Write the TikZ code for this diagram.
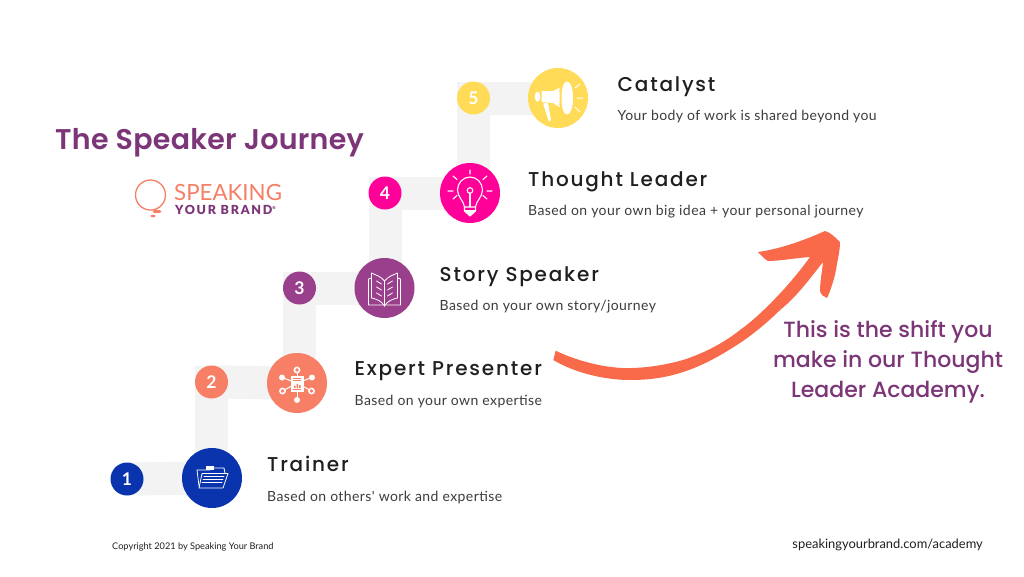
\documentclass[tikz,border=0pt]{standalone}
\usepackage{fontspec}
\usetikzlibrary{calc}
\setmainfont{Lato}
\newfontfamily\popH[LetterSpace=9]{Poppins Medium}
\newfontfamily\popT[LetterSpace=1]{Poppins SemiBold}
\newfontfamily\popR{Poppins Medium}
\newfontfamily\latoS[LetterSpace=3]{Lato}
\newfontfamily\latoB{Lato Bold}
\newfontfamily\logoL{Lato}
\newfontfamily\logoB[LetterSpace=14]{Lato Black}
\definecolor{cblue}{HTML}{0A33AE}
\definecolor{ccoral}{HTML}{F67F66}
\definecolor{cpurple}{HTML}{9A3F8C}
\definecolor{cpink}{HTML}{FF0099}
\definecolor{cyellow}{HTML}{FFDB58}
\definecolor{ctrack}{HTML}{F3F3F3}
\definecolor{ctitle}{HTML}{7C3678}
\definecolor{carrow}{HTML}{F96A4A}
\definecolor{ctext}{HTML}{3C3C3C}
\tikzset{
  track/.style={draw=ctrack,line width=33pt,line cap=butt},
  bigc/.style={circle,minimum size=60pt,inner sep=0pt,fill=#1},
  smallc/.style={circle,minimum size=33pt,inner sep=0pt,fill=#1,text=white,font=\latoB\fontsize{17.5}{17}\selectfont},
  head/.style={anchor=base west,inner sep=0pt,text=black!88,font=\popH\fontsize{20}{20}\selectfont},
  desc/.style={anchor=base west,inner sep=0pt,text=ctext,font=\latoS\fontsize{14}{14}\selectfont},
  ico/.style={draw=white,line width=1pt,line cap=round,line join=round},
  callout/.style={anchor=base,inner sep=0pt,text=ctitle,font=\popR\fontsize{22}{22}\selectfont},
}
\begin{document}
\begin{tikzpicture}[x=1pt,y=-1pt]
\useasboundingbox (0,0) rectangle (1024,576);
\fill[white] (0,0) rectangle (1024,576);
\path
 (127,479) coordinate (p1)
 (212,478) coordinate (q1)
 (211.5,382) coordinate (p2)
 (297,383) coordinate (q2)
 (299.5,288) coordinate (p3)
 (384.5,288) coordinate (q3)
 (385,193) coordinate (p4)
 (470,193) coordinate (q4)
 (473.5,98) coordinate (p5)
 (558,98) coordinate (q5);
\draw[track] (p1) -- (q1);
\draw[track] (p2 |- q1) -- ($(p2)+(0,-16.5)$);
\draw[track] (p2) -- (q2);
\draw[track] (p3 |- q2) -- ($(p3)+(0,-16.5)$);
\draw[track] (p3) -- (q3);
\draw[track] (p4 |- q3) -- ($(p4)+(0,-16.5)$);
\draw[track] (p4) -- (q4);
\draw[track] (p5 |- q4) -- ($(p5)+(0,-16.5)$);
\draw[track] (p5) -- (q5);
\node[smallc=cblue]   (n1) at (p1) {1};
\node[bigc=cblue]     (c1) at (q1) {};
\node[smallc=ccoral]  (n2) at (p2) {2};
\node[bigc=ccoral]    (c2) at (q2) {};
\node[smallc=cpurple] (n3) at (p3) {3};
\node[bigc=cpurple]   (c3) at (q3) {};
\node[smallc=cpink]   (n4) at (p4) {4};
\node[bigc=cpink]     (c4) at (q4) {};
\node[smallc=cyellow] (n5) at (p5) {5};
\node[bigc=cyellow]   (c5) at (q5) {};
% folder icon
\begin{scope}[shift={(212,478)}]
 \draw[ico,line width=.8pt] (-13,8) -- (-15,-8) -- (-2,-8) -- (-1,-10) -- (12,-10) -- (13,-5);
 \draw[ico,line width=.8pt] (-13,10) -- (11,10) -- (16,-4.5) -- (-10,-4.5) -- cycle;
 \fill[white] (-6,-12.5) rectangle (2,-8.5);
 \draw[ico,line width=.8pt] (-8,-1.5) -- (12,-1.5) (-9,1.5) -- (11,1.5) (-10,4.5) -- (10,4.5);
\end{scope}
% network icon
\begin{scope}[shift={(297,383)}]
 \foreach \a/\b in {0/-12,0/17,-15/-5.5,15/-5.5,-14.5/8,14.5/8}{
   \draw[ico] (0,0) -- (\a,\b);
 }
 \draw[ico,fill=ccoral,line width=1.6pt] (0,-13) circle (2.6);
 \fill[white] (0,17) circle (3);
 \fill[white] (-15,-5.5) circle (3);
 \fill[white] (15,-5.5) circle (3);
 \draw[ico,fill=ccoral,line width=1.6pt] (-14.5,8) circle (2.6);
 \draw[ico,fill=ccoral,line width=1.6pt] (14.5,8) circle (2.6);
 \draw[draw=white,fill=white,line width=.5pt] (-6,-7) rectangle (6,8);
 \draw[ccoral,line width=.7pt] (-4,-4.5) -- (4,-4.5) (-4,-2.3) -- (4,-2.3) (-4,6) -- (4,6);
 \fill[ccoral] (-3,5) rectangle (-1.5,2.5) (-.5,5) rectangle (1,.8) (2,5) rectangle (3.5,2);
\end{scope}
% book icon
\begin{scope}[shift={(384.5,288)}]
 \draw[ico,line width=.8pt] (0,-7) .. controls (-4,-12) and (-9,-13) .. (-13,-15) -- (-13,10) .. controls (-8,11) and (-3,13) .. (0,18);
 \draw[ico,line width=.8pt] (0,-7) .. controls (4,-12) and (9,-13) .. (13,-15) -- (13,10) .. controls (8,11) and (3,13) .. (0,18);
 \draw[ico,line width=.8pt] (0,-7) -- (0,18);
 \draw[ico,line width=.8pt] (-13,-10) -- (-16,-9) -- (-16,17) -- (-2,17) (13,-10) -- (16,-9) -- (16,17) -- (2,17);
 \foreach \y in {-5,1,7}{
  \draw[ico,line width=.8pt] (-8,\y-2) -- (-3,\y+1) (8,\y-2) -- (3,\y+1);
 }
\end{scope}
% bulb icon
\begin{scope}[shift={(470,193)}]
 \draw[ico,line width=1.1pt] (-5.5,14) .. controls (-6,8) and (-12.5,4) .. (-12.5,-3) .. controls (-12.5,-10) and (-7,-16) .. (0,-16)
   .. controls (7,-16) and (12.5,-10) .. (12.5,-3) .. controls (12.5,4) and (6,8) .. (5.5,14) -- cycle;
 \draw[ico,line width=1.1pt] (0,14) -- (0,0);
 \draw[ico,line width=1.1pt] (0,-2.5) circle (2.8);
 \draw[ico,line width=1.1pt] (-5.5,14) -- (-5.5,18) -- (0,23) -- (5.5,18) -- (5.5,14);
 \fill[white] (-5.5,17) -- (5.5,17) -- (5.5,18) -- (0,23) -- (-5.5,18) -- cycle;
 \draw[ico,line width=1.1pt] (0,-23) -- (0,-19) (-17,-17) -- (-13,-13.5) (17,-17) -- (13,-13.5)
   (-22,-2) -- (-17,-2) (22,-2) -- (17,-2) (-17,6) -- (-13,2.5) (17,6) -- (13,2.5);
\end{scope}
% megaphone icon
\begin{scope}[shift={(558,98)}]
 \fill[white] (-20,-6.3) ellipse[x radius=3,y radius=0] (-20.5,-1.3) ellipse (2.8 and 5);
 \fill[white] (-16.5,-7) -- (-5,-7) .. controls (-2,-8) and (0,-10) .. (1.5,-10) -- (1.5,9) .. controls (-1,8) and (-3,6) .. (-5,5) -- (-16.5,4) -- cycle;
 \fill[white,rounded corners=1pt] (-15,5) -- (-10,5) -- (-7,22) -- (-9,24) -- (-11,18) -- cycle;
 \draw[cyellow,line width=1pt] (1.5,-8) .. controls (5,-5) and (5,3) .. (1.5,7);
 \fill[white] (9,-16.5) .. controls (5,-16.5) and (3.5,-8) .. (3.5,0) .. controls (3.5,8) and (5,16.5) .. (9,16.5) .. controls (13,16.5) and (15,8) .. (15,0) .. controls (15,-8) and (13,-16.5) .. (9,-16.5) -- cycle;
 \draw[ico,line width=1pt] (17,-10) -- (22,-14) (19,0) -- (25,0) (17,9) -- (22,14);
\end{scope}
% labels
\node[head] (t1) at (267,471.5) {Trainer};
\node[desc] (d1) at (267,501) {Based on others' work and expertise};
\node[head] (t2) at (354.5,375.5) {Expert Presenter};
\node[desc] (d2) at (354.5,405) {Based on your own expertise};
\node[head] (t3) at (439.5,281) {Story Speaker};
\node[desc] (d3) at (439.5,310.5) {Based on your own story/journey};
\node[head] (t4) at (528,186.5) {Thought Leader};
\node[desc] (d4) at (528,215.5) {Based on your own big idea + your personal journey};
\node[head] (t5) at (617.5,91) {Catalyst};
\node[desc] (d5) at (617.5,120.5) {Your body of work is shared beyond you};
% title
\node[anchor=base west,inner sep=0pt,text=ctitle,font=\popT\fontsize{28.5}{30}\selectfont] (title) at (55,149.5) {The Speaker Journey};
% logo
\draw[ccoral,line width=1.3pt] (150.5,195) circle (15);
\fill[ccoral] (157,211.5) ellipse (4.5 and 1.7);
\fill[ccoral] (153,216) ellipse (2.5 and 1.3);
\node[anchor=base west,inner sep=0pt,text=ccoral,font=\logoL\fontsize{22.3}{23}\selectfont] (logoA) at (174,200) {SPEAKING};
\node[anchor=base west,inner sep=0pt,text=ctitle,font=\logoB\fontsize{12.5}{12}\selectfont] (logoB) at (175,214) {YOUR BRAND\raisebox{5pt}{\fontsize{4}{4}\selectfont ®}};
% big arrow
\fill[carrow] (553.3,360) -- (555.7,350.7)
  .. controls (575,360) and (600,367) .. (623,368)
  .. controls (645,368.5) and (665,365) .. (683,360)
  .. controls (705,353) and (725,342) .. (740,330)
  .. controls (760,316) and (790,285) .. (810,257)
  .. controls (795,258) and (780,261) .. (768,261)
  .. controls (764,259) and (761,255) .. (758,252)
  .. controls (780,249) and (805,240) .. (825,231)
  .. controls (830,232) and (836,238) .. (840,242)
  .. controls (840,252) and (837,262) .. (836,270)
  .. controls (834,280) and (830,292) .. (827,298)
  .. controls (824,297) and (821,295) .. (820,291)
  .. controls (820,282) and (822,272) .. (823,262)
  .. controls (805,285) and (795,298) .. (780,310)
  .. controls (770,320) and (755,333) .. (740,343)
  .. controls (720,356) and (702,366) .. (683,372)
  .. controls (665,378) and (648,380) .. (630,380)
  .. controls (605,380) and (575,373) .. (553.3,360) -- cycle;
% callout
\node[callout] (s1) at (888,337) {This is the shift you};
\node[callout] (s2) at (888,367) {make in our Thought};
\node[callout] (s3) at (888,397) {Leader Academy.};
% footer
\node[anchor=base west,inner sep=0pt,text=black!88,font=\fontsize{9.2}{9}\selectfont] (copy) at (112,549) {Copyright 2021 by Speaking Your Brand};
\node[anchor=base east,inner sep=0pt,text=black!88,font=\fontsize{12.9}{13}\selectfont] (url) at (983,548) {speakingyourbrand.com/academy};
\end{tikzpicture}
\end{document}
